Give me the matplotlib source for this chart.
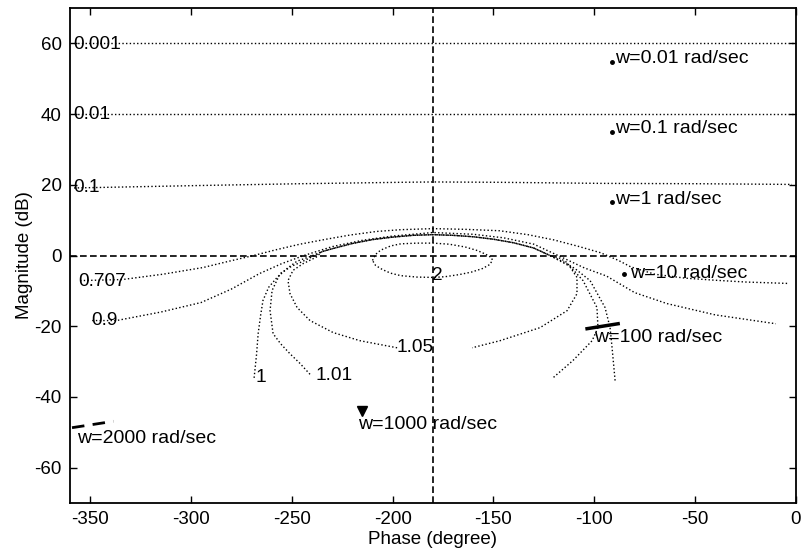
import matplotlib.pyplot as plt

plt.rcParams['font.family'] = ['Liberation Sans', 'DejaVu Sans']
plt.rcParams['axes.unicode_minus'] = False

# closed-loop magnitude contours (phase in degree, magnitude in dB)
m0001_ph = [-358, -300, -250, -180, -100, -50, -1]
m0001_mg = [60, 60, 60, 60, 60, 60, 60]

m001_ph = [-358, -300, -250, -180, -100, -50, -1]
m001_mg = [40, 40, 40, 40, 40, 40, 40]

m01_ph = [-358, -295, -246, -196, -180, -147, -97, -48, -2]
m01_mg = [19.1, 19.8, 20.3, 20.7, 20.8, 20.7, 20.4, 20.3, 20.1]

m0707_ph = [-355, -334, -314, -294, -281, -269, -258, -246, -233, -221, -208, -196, -180,
            -164, -147, -133, -120, -108, -97, -88, -82, -70, -55, -40, -25, -4]
m0707_mg = [-7.1, -6.8, -5.3, -3.4, -1.6, 0.0, 1.6, 3.2, 4.6, 5.8, 6.8, 7.3, 7.6,
            7.4, 7.0, 5.9, 4.4, 2.6, 0.8, -1.4, -3.2, -5.3, -6.4, -7.0, -7.5, -7.9]

m09_ph = [-349, -337, -315, -295, -280, -266, -255, -244, -230, -215, -200, -180,
          -160, -145, -130, -118, -105, -94, -80, -64, -40, -10]
m09_mg = [-18.4, -18.4, -16.0, -13.3, -9.5, -5.1, -2.3, 0.0, 2.5, 4.3, 5.5, 6.5,
          6.0, 5.0, 3.2, 0.0, -3.5, -5.8, -10.5, -13.6, -16.8, -19.3]

top_ph = [-235, -230, -220, -210, -200, -190, -180, -170, -160, -150, -140, -130, -122]
top_mg = [1.1, 1.9, 3.4, 4.5, 5.2, 5.7, 5.9, 5.7, 5.3, 4.6, 3.6, 2.1, 0.0]

m1_ph = ([-268.7, -267.5, -266.7, -265.5, -264.3, -261.5, -257.3, -252, -247.4, -241]
         + top_ph + [-115, -109.6, -102.1, -94.7, -92.2, -91.2, -89.7])
m1_mg = ([-34.6, -28, -22.1, -17, -12.7, -9, -6.2, -3.5, -1.6, -0.3]
         + top_mg + [-1.9, -3.7, -7.1, -14.7, -20.4, -26.1, -35.4])

m101_ph = ([-241, -246, -250.9, -255.5, -259.3, -260.8, -259.8, -255.8, -250, -245.9, -240]
           + top_ph + [-112, -105.6, -98.7, -98.2, -101.1, -110.6, -120.5])
m101_mg = ([-33.6, -30.5, -27.8, -25, -22.1, -15.6, -9.9, -5.1, -3, -2.0, -0.4]
           + top_mg + [-3.1, -7.1, -14.7, -20.4, -24.1, -29.7, -34.6])

m105_ph = ([-197.8, -216.2, -229.5, -241, -247.4, -250.9, -251.9, -249.4, -244.4, -238]
           + top_ph + [-117, -113.5, -108.6, -108.6, -113.5, -126.9, -146.8, -160.6])
m105_mg = ([-26.1, -24.1, -21.8, -18.4, -14.7, -10.8, -7.1, -4.2, -2.3, -0.5]
           + top_mg + [-0.8, -2.0, -6.2, -10.8, -15.6, -20.4, -24.1, -26.1])

m2_ph = [-210, -208.5, -206, -201, -196, -188, -180, -172, -164, -158, -154, -151, -150.5,
         -152, -155.5, -161, -167, -174, -180, -188, -196, -201, -205, -208.5, -210]
m2_mg = [-1.4, 0.3, 1.5, 2.7, 3.3, 3.5, 3.5, 3.2, 2.4, 1.4, 0.4, -0.6, -1.4,
         -2.6, -3.7, -4.7, -5.4, -6.0, -6.2, -6.1, -5.7, -5.0, -4.0, -2.8, -1.4]

contours = [(m0001_ph, m0001_mg), (m001_ph, m001_mg), (m01_ph, m01_mg),
            (m0707_ph, m0707_mg), (m09_ph, m09_mg), (m1_ph, m1_mg),
            (m101_ph, m101_mg), (m105_ph, m105_mg), (m2_ph, m2_mg)]

# contour labels
lab_text = ['0.001', '0.01', '0.1', '0.707', '0.9', '1', '1.01', '1.05', '2']
lab_ph = [-358.5, -358.5, -358.5, -356, -349.5, -268.2, -238.5, -198.3, -180.5]
lab_mg = [59.8, 39.8, 19.2, -7.4, -18.4, -34.4, -34.0, -26.1, -5.7]

# frequency response points
w_dot_ph = [-91.2, -91.2, -91.2, -85.3]
w_dot_mg = [54.7, 34.8, 15.0, -5.1]
w100_ph = [-103.6, -88.2]
w100_mg = [-20.7, -19.3]
w1000_ph = [-215.2]
w1000_mg = [-43.9]
w2000_ph = [-359, -338.5]
w2000_mg = [-48.7, -46.9]

w_text = ['w=0.01 rad/sec', 'w=0.1 rad/sec', 'w=1 rad/sec', 'w=10 rad/sec',
          'w=100 rad/sec', 'w=1000 rad/sec', 'w=2000 rad/sec']
w_text_ph = [-89.5, -89.5, -89.5, -82.3, -100.1, -217.2, -356.3]
w_text_mg = [55.8, 35.9, 15.9, -5.1, -23.2, -47.9, -51.8]

fig = plt.figure(figsize=(8.03, 5.58), dpi=100)
ax = fig.add_axes([70 / 803, 55 / 558, 726 / 803, 495 / 558])

for ph, mg in contours:
    ax.plot(ph, mg, color='k', linestyle=':', linewidth=1.0)

ax.axhline(0, color='k', linestyle=(0, (4, 2)), linewidth=1.2)
ax.axvline(-180, color='k', linestyle=(0, (4, 2)), linewidth=1.2)

for s, x, y in zip(lab_text, lab_ph, lab_mg):
    ax.text(x, y, s, fontsize=13.7, ha='left', va='center')

ax.plot(w_dot_ph, w_dot_mg, 'k.', markersize=5)
ax.plot(w100_ph, w100_mg, color='k', linewidth=2.5)
ax.plot(w1000_ph, w1000_mg, 'kv', markersize=7)
ax.plot(w2000_ph, w2000_mg, color='k', linewidth=2, linestyle=(0, (4.5, 3.0)))

for s, x, y in zip(w_text, w_text_ph, w_text_mg):
    ax.text(x, y, s, fontsize=14, ha='left', va='center')

ax.set_xlim(-360, 0)
ax.set_ylim(-70, 70)
ax.set_xticks([-350, -300, -250, -200, -150, -100, -50, 0])
ax.set_yticks([-60, -40, -20, 0, 20, 40, 60])
ax.tick_params(direction='in', top=True, right=True, length=5, width=1,
               labelsize=13.5, pad=6)
for sp in ax.spines.values():
    sp.set_linewidth(1.3)

ax.set_xlabel('Phase (degree)', fontsize=13.5, labelpad=2)
ax.set_ylabel('Magnitude (dB)', fontsize=13.5, labelpad=1)

fig.savefig('out.png', dpi=100)
